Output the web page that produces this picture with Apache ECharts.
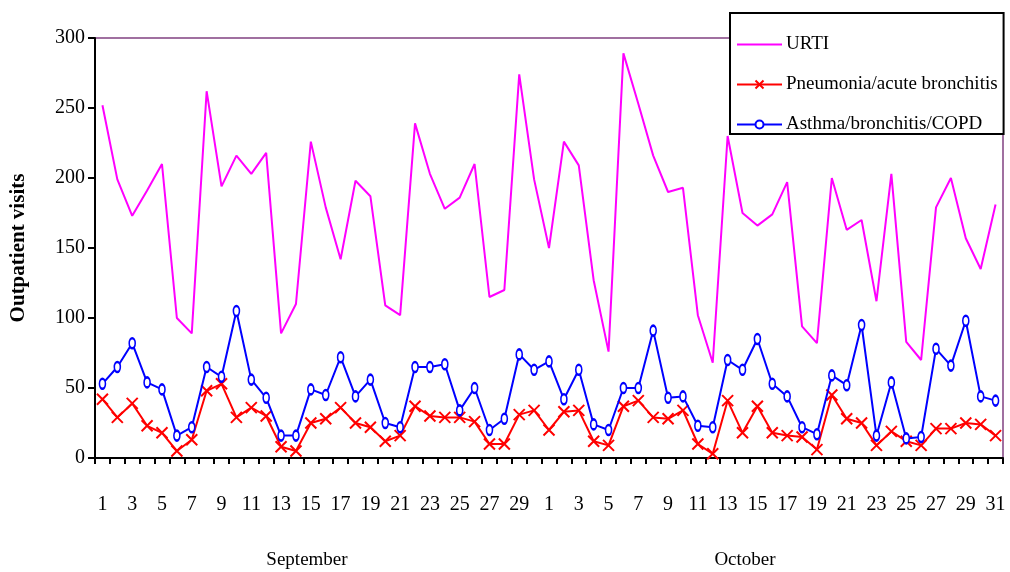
<!DOCTYPE html>
<html>
<head>
<meta charset="utf-8">
<script src="https://cdn.jsdelivr.net/npm/echarts@6/dist/echarts.min.js"></script>
<style>html,body{margin:0;padding:0;background:#fff;}#c{width:1010px;height:572px;}</style>
</head>
<body>
<div id="c"></div>
<script>
var sepDays = ['1','2','3','4','5','6','7','8','9','10','11','12','13','14','15','16','17','18','19','20','21','22','23','24','25','26','27','28','29','30'];
var octDays = ['1','2','3','4','5','6','7','8','9','10','11','12','13','14','15','16','17','18','19','20','21','22','23','24','25','26','27','28','29','30','31'];
var monthNames = ['September', 'October'];
var yTicks = [0, 50, 100, 150, 200, 250, 300];

var urti = [252,199,173,191,210,100,89,262,194,216,203,218,89,110,226,179,142,198,187,109,102,
            239,203,178,186,210,115,120,274,199,150,226,209,127,76,289,253,216,190,193,102,68,
            230,175,166,174,197,94,82,200,163,170,112,203,83,70,179,200,157,135,181];
var pneu = [42,29,39,23,18,5,13,48,53,29,36,30,8,5,25,28,36,25,22,12,16,
            37,30,29,29,26,10,10,31,34,20,33,34,12,9,37,41,29,28,34,10,3,
            41,18,37,18,16,15,6,45,28,25,9,19,12,9,21,21,25,24,16];
var asth = [53,65,82,54,49,16,22,65,58,105,56,43,16,16,49,45,72,44,56,25,22,
            65,65,67,34,50,20,28,74,63,69,42,63,24,20,50,50,91,43,44,23,22,
            70,63,85,53,44,22,17,59,52,95,16,54,14,15,78,66,98,44,41];

var cats = [];
sepDays.forEach(function(d){ cats.push('S' + d); });
octDays.forEach(function(d){ cats.push('O' + d); });

var font = 'Liberation Serif, Times New Roman, serif';
var chart = echarts.init(document.getElementById('c'), null, {renderer: 'canvas'});
chart.setOption({
  animation: false,
  backgroundColor: '#fff',
  grid: {left: 95, right: 7, top: 38, bottom: 114, show: true, borderColor: '#a070a0', borderWidth: 2, backgroundColor: 'transparent'},
  legend: {
    orient: 'vertical', left: 730, top: 13,
    padding: [22, 6, 0, 6], itemGap: 21, itemWidth: 45, itemHeight: 10,
    backgroundColor: '#fff', borderColor: '#000', borderWidth: 2,
    textStyle: {fontFamily: font, fontSize: 19, color: '#000', padding: [0, 0, 0, -1]},
    data: [
      {name: 'URTI', itemStyle: {opacity: 0}},
      {name: 'Pneumonia/acute bronchitis'},
      {name: 'Asthma/bronchitis/COPD'}
    ]
  },
  xAxis: {
    type: 'category', data: cats, boundaryGap: true,
    axisLine: {lineStyle: {color: '#000', width: 2}},
    axisTick: {show: true, interval: 0, alignWithLabel: false, length: 6, lineStyle: {color: '#000', width: 2}},
    axisLabel: {interval: 1, margin: 37, fontFamily: font, fontSize: 20, color: '#000',
      formatter: function(v){ return v.substring(1); }},
    splitLine: {show: false}
  },
  yAxis: {
    type: 'value', min: yTicks[0], max: yTicks[yTicks.length - 1], interval: 50,
    name: 'Outpatient visits', nameLocation: 'middle', nameGap: 66,
    nameTextStyle: {fontFamily: font, fontSize: 21, fontWeight: 'bold', color: '#000'},
    axisLine: {show: true, lineStyle: {color: '#000', width: 2}},
    axisTick: {show: true, length: 7, lineStyle: {color: '#000', width: 2}},
    axisLabel: {margin: 10, fontFamily: font, fontSize: 20, color: '#000'},
    splitLine: {show: false}
  },
  graphic: [
    {type: 'text', x: 307, y: 560, style: {text: monthNames[0], font: '19px ' + font, fill: '#000', textAlign: 'center', textVerticalAlign: 'middle'}},
    {type: 'text', x: 745, y: 560, style: {text: monthNames[1], font: '19px ' + font, fill: '#000', textAlign: 'center', textVerticalAlign: 'middle'}}
  ],
  series: [
    {name: 'URTI', type: 'line', data: urti, symbol: 'none', z: 2,
      lineStyle: {color: '#ff00ff', width: 2}, itemStyle: {color: '#ff00ff'}},
    {name: 'Pneumonia/acute bronchitis', type: 'line', data: pneu, z: 3,
      symbol: 'path://M0,0L10,10M10,0L0,10', symbolSize: 11, showAllSymbol: true,
      lineStyle: {color: '#ff0000', width: 2},
      itemStyle: {color: 'none', borderColor: '#ff0000', borderWidth: 2}},
    {name: 'Asthma/bronchitis/COPD', type: 'line', data: asth, z: 4,
      symbol: 'emptyCircle', symbolSize: [6, 10], showAllSymbol: true,
      lineStyle: {color: '#0000ff', width: 2},
      itemStyle: {color: '#0000ff', borderColor: '#0000ff', borderWidth: 1.5}}
  ]
});
</script>
</body>
</html>
